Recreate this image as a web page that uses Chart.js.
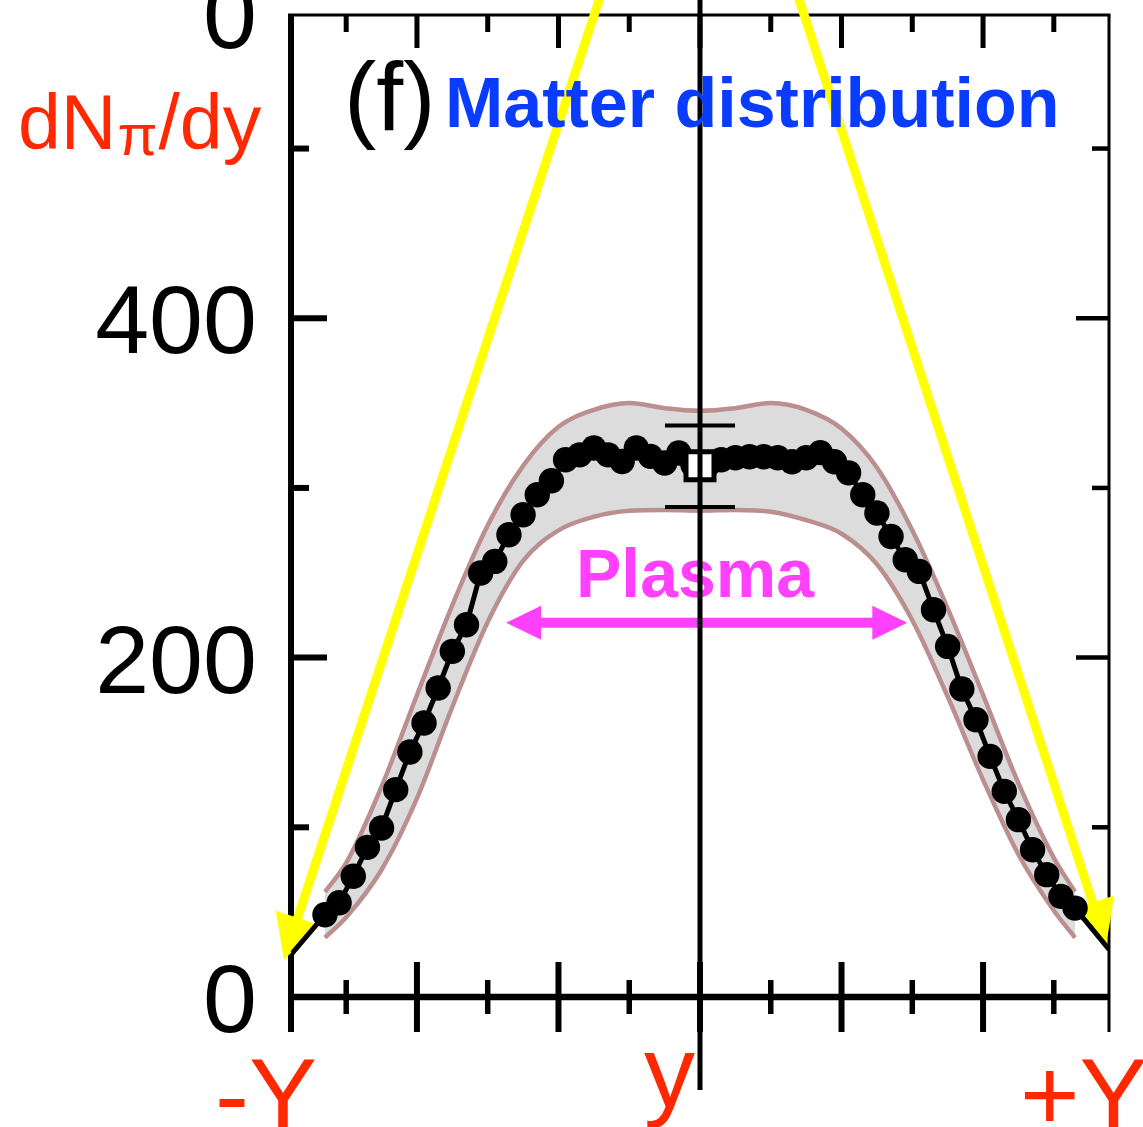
<!DOCTYPE html>
<html>
<head>
<meta charset="utf-8">
<script src="https://cdn.jsdelivr.net/npm/chart.js@4.4.0/dist/chart.umd.min.js"></script>
<style>
  html, body { margin: 0; padding: 0; background: #fff; }
  canvas { display: block; }
</style>
</head>
<body>
<canvas id="dndy" width="1143" height="1127"></canvas>
<script>
// pion yield per rapidity bin (black dots)
const rapidity = [-5.3, -5.1, -4.9, -4.7, -4.5, -4.3, -4.1, -3.9, -3.7, -3.5, -3.3, -3.1, -2.9, -2.7,
  -2.5, -2.3, -2.1, -1.9, -1.7, -1.5, -1.3, -1.1, -0.9, -0.7, -0.5, -0.3, -0.1,
  0.1, 0.3, 0.5, 0.7, 0.9, 1.1, 1.3, 1.5, 1.7, 1.9, 2.1, 2.3, 2.5, 2.7, 2.9, 3.1, 3.3, 3.5,
  3.7, 3.9, 4.1, 4.3, 4.5, 4.7, 4.9, 5.1, 5.3];
const dNdy = [48.5, 55.5, 71.2, 88.2, 99.6, 122.2, 144.4, 161.5, 182.1, 203.7, 219.4, 249.9, 256.7, 272.4,
  284.2, 296.0, 304.2, 316.6, 319.5, 323.5, 319.5, 315.6, 323.5, 318.6, 314.7, 320.6, 313.7,
  313.1, 316.6, 317.8, 318.4, 318.4, 317.8, 315.4, 317.8, 320.8, 315.4, 308.9, 296.0, 285.2, 271.4, 257.7, 250.8, 228.2, 206.6,
  181.5, 163.4, 141.8, 121.2, 104.5, 86.8, 72.1, 59.3, 52.4];

// the black curve runs on to the frame at both ends
const curveEndX = [-5.78, 5.78];
const curveEndY = [25, 28];

// grey uncertainty band
const bandX = [-5.3, -5.0, -4.5, -4.0, -3.5, -3.0, -2.5, -2.0, -1.5, -1.0, -0.5, 0,
  0.5, 1.0, 1.5, 2.0, 2.5, 3.0, 3.5, 4.0, 4.5, 5.0, 5.3];
const bandHigh = [62, 79, 124, 178, 231, 278, 313, 336, 346, 350, 347, 345.5,
  347, 350, 346, 335, 312, 275, 229, 178, 126, 82, 62];
const bandLow = [35, 47, 75, 117, 171, 221, 257, 275, 283, 286.5, 287, 286.6,
  287, 286, 281, 273, 255, 222, 177, 128, 84, 51, 35];

// open square at mid-rapidity with its error bar
const midX = [0];
const midY = [313];
const midLow = [288.7];
const midHigh = [336.8];

// yellow arrows: [start, tip]
const arrowLeftX = [-1.17, -5.88];
const arrowLeftY = [620, 22];
const arrowRightX = [1.15, 5.74];
const arrowRightY = [620, 31];

// plasma range
const plasmaX = [-2.74, 2.93];
const plasmaY = [220.6];

// axis ticks
const yMajor = [0, 200, 400];
const yMinor = [100, 300, 500];
const xMajor = [-4, -2, 0, 2, 4];
const xMinor = [-5, -3, -1, 1, 3, 5];
const yTopLabel = '0';
const xEdgeLabels = ['-Y', 'y', '+Y'];

const FONT = '"Liberation Sans", Arial, Helvetica, sans-serif';
const RED = '#ff2800';
const BLUE = '#0a3cff';
const PINK = '#ff40ff';
const YELLOW = '#ffff00';

function seg(ctx, x1, y1, x2, y2, w) {
  ctx.lineWidth = w;
  ctx.beginPath();
  ctx.moveTo(x1, y1);
  ctx.lineTo(x2, y2);
  ctx.stroke();
}

function arrow(ctx, x1, y1, x2, y2, shaft, len, half, color, twoWay) {
  const dx = x2 - x1, dy = y2 - y1;
  const d = Math.hypot(dx, dy);
  const ux = dx / d, uy = dy / d;
  ctx.save();
  ctx.strokeStyle = color;
  ctx.fillStyle = color;
  ctx.lineCap = 'butt';
  const sx = twoWay ? x1 + ux * len * 0.8 : x1;
  const sy = twoWay ? y1 + uy * len * 0.8 : y1;
  seg(ctx, sx, sy, x2 - ux * len * 0.8, y2 - uy * len * 0.8, shaft);
  const head = (tx, ty, vx, vy) => {
    ctx.beginPath();
    ctx.moveTo(tx, ty);
    ctx.lineTo(tx - vx * len - vy * half, ty - vy * len + vx * half);
    ctx.lineTo(tx - vx * len + vy * half, ty - vy * len - vx * half);
    ctx.closePath();
    ctx.fill();
  };
  head(x2, y2, ux, uy);
  if (twoWay) head(x1, y1, -ux, -uy);
  ctx.restore();
}

// frame, ticks and the two yellow arrows sit under the data
const underlay = {
  id: 'underlay',
  beforeDatasetsDraw(chart) {
    const { ctx, chartArea: a, scales: { x, y } } = chart;
    ctx.save();
    ctx.strokeStyle = '#000';
    ctx.lineCap = 'butt';
    seg(ctx, a.left, a.top, a.left, a.bottom + 35, 6);
    seg(ctx, a.right, a.top, a.right, a.bottom + 35, 3);
    seg(ctx, a.left - 3, a.top, a.right + 1.5, a.top, 3);
    seg(ctx, a.left, a.bottom, a.right, a.bottom, 6.5);
    xMajor.forEach(v => {
      const px = x.getPixelForValue(v);
      seg(ctx, px, a.bottom - 35, px, a.bottom + 35, 6);
      seg(ctx, px, a.top, px, a.top + 33, 5);
    });
    xMinor.forEach(v => {
      const px = x.getPixelForValue(v);
      seg(ctx, px, a.bottom - 17, px, a.bottom + 17, 5.5);
      seg(ctx, px, a.top, px, a.top + 17, 5);
    });
    yMajor.forEach(v => {
      const py = y.getPixelForValue(v);
      seg(ctx, a.left, py, a.left + 36, py, 6);
      seg(ctx, a.right, py, a.right - 33, py, 4.5);
    });
    yMinor.forEach(v => {
      const py = y.getPixelForValue(v);
      seg(ctx, a.left, py, a.left + 18, py, 6);
      seg(ctx, a.right, py, a.right - 17, py, 4.5);
    });
    arrow(ctx, x.getPixelForValue(arrowLeftX[0]), y.getPixelForValue(arrowLeftY[0]),
      x.getPixelForValue(arrowLeftX[1]), y.getPixelForValue(arrowLeftY[1]), 9, 44, 23, YELLOW, false);
    arrow(ctx, x.getPixelForValue(arrowRightX[0]), y.getPixelForValue(arrowRightY[0]),
      x.getPixelForValue(arrowRightX[1]), y.getPixelForValue(arrowRightY[1]), 9, 44, 23, YELLOW, false);
    ctx.restore();
  }
};

// error bar, plasma arrow, centre line and all text go on top
const overlay = {
  id: 'overlay',
  afterDatasetsDraw(chart) {
    const { ctx, chartArea: a, scales: { x, y } } = chart;
    const x0 = x.getPixelForValue(0);
    ctx.save();
    ctx.strokeStyle = '#000';
    midX.forEach((v, i) => {
      const px = x.getPixelForValue(v);
      seg(ctx, px - 35, y.getPixelForValue(midHigh[i]), px + 35, y.getPixelForValue(midHigh[i]), 4);
      seg(ctx, px - 35, y.getPixelForValue(midLow[i]), px + 35, y.getPixelForValue(midLow[i]), 4);
      seg(ctx, px, y.getPixelForValue(midHigh[i]), px, y.getPixelForValue(midLow[i]), 4);
    });

    const py = y.getPixelForValue(plasmaY[0]);
    arrow(ctx, x.getPixelForValue(plasmaX[0]), py, x.getPixelForValue(plasmaX[1]), py, 10, 35, 17, PINK, true);
    ctx.fillStyle = PINK;
    ctx.font = 'bold 68px ' + FONT;
    ctx.textAlign = 'center';
    ctx.textBaseline = 'alphabetic';
    ctx.fillText('Plasma', x0 - 5, py - 26);

    ctx.strokeStyle = '#000';
    seg(ctx, x0, 0, x0, a.bottom + 93, 5);

    // tick labels
    ctx.fillStyle = '#000';
    ctx.font = '97px ' + FONT;
    ctx.textAlign = 'right';
    yMajor.forEach(v => ctx.fillText(String(v), a.left - 34, y.getPixelForValue(v) + 35));
    ctx.fillText(yTopLabel, a.left - 34, a.top + 33);

    ctx.fillStyle = RED;
    ctx.font = '102px ' + FONT;
    ctx.textAlign = 'left';
    ctx.fillText(xEdgeLabels[0], a.left - 76, a.bottom + 133);
    ctx.fillText(xEdgeLabels[1], x0 - 56, a.bottom + 110);
    ctx.fillText(xEdgeLabels[2], a.right - 89, a.bottom + 133);

    // axis title dN_pi/dy
    let tx = 18;
    ctx.font = '77px ' + FONT;
    ctx.fillText('dN', tx, 149);
    tx += ctx.measureText('dN').width + 1;
    ctx.font = '58px ' + FONT;
    ctx.fillText('\u03c0', tx, 155);
    tx += ctx.measureText('\u03c0').width + 1;
    ctx.font = '77px ' + FONT;
    ctx.fillText('/dy', tx, 149);

    ctx.fillStyle = '#000';
    ctx.font = '97px ' + FONT;
    ctx.fillText('(f)', 344, 130);
    ctx.fillStyle = BLUE;
    ctx.font = 'bold 70px ' + FONT;
    ctx.fillText('Matter distribution', 445, 127);
    ctx.restore();
  }
};

const pts = (xs, ys) => xs.map((v, i) => ({ x: v, y: ys[i] }));
const curveX = [curveEndX[0], ...rapidity, curveEndX[1]];
const curveY = [curveEndY[0], ...dNdy, curveEndY[1]];

new Chart(document.getElementById('dndy'), {
  type: 'line',
  data: {
    datasets: [
      {
        label: 'mid-rapidity',
        data: pts(midX, midY),
        showLine: false,
        pointStyle: 'rect',
        pointRadius: 19.8,
        pointBackgroundColor: '#fff',
        pointBorderColor: '#000',
        pointBorderWidth: 5,
        order: 0
      },
      {
        label: 'dN/dy',
        data: pts(rapidity, dNdy),
        showLine: false,
        pointRadius: 12.7,
        pointBackgroundColor: '#000',
        pointBorderWidth: 0,
        order: 1
      },
      {
        label: 'curve',
        data: pts(curveX, curveY),
        borderColor: '#000',
        borderWidth: 5,
        pointRadius: 0,
        tension: 0,
        order: 2
      },
      {
        label: 'band high',
        data: pts(bandX, bandHigh),
        borderColor: '#bc8f8f',
        borderWidth: 4.5,
        backgroundColor: '#dcdcdc',
        fill: '+1',
        pointRadius: 0,
        cubicInterpolationMode: 'monotone',
        order: 4
      },
      {
        label: 'band low',
        data: pts(bandX, bandLow),
        borderColor: '#bc8f8f',
        borderWidth: 4.5,
        fill: false,
        pointRadius: 0,
        cubicInterpolationMode: 'monotone',
        order: 3
      }
    ]
  },
  options: {
    responsive: false,
    animation: false,
    events: [],
    layout: { autoPadding: false, padding: { left: 291, right: 34, top: 15, bottom: 130 } },
    scales: {
      x: { type: 'linear', min: -5.78, max: 5.78, display: false },
      y: { type: 'linear', min: 0, max: 578.7, display: false }
    },
    plugins: {
      legend: { display: false },
      tooltip: { enabled: false }
    }
  },
  plugins: [underlay, overlay]
});
</script>
</body>
</html>
